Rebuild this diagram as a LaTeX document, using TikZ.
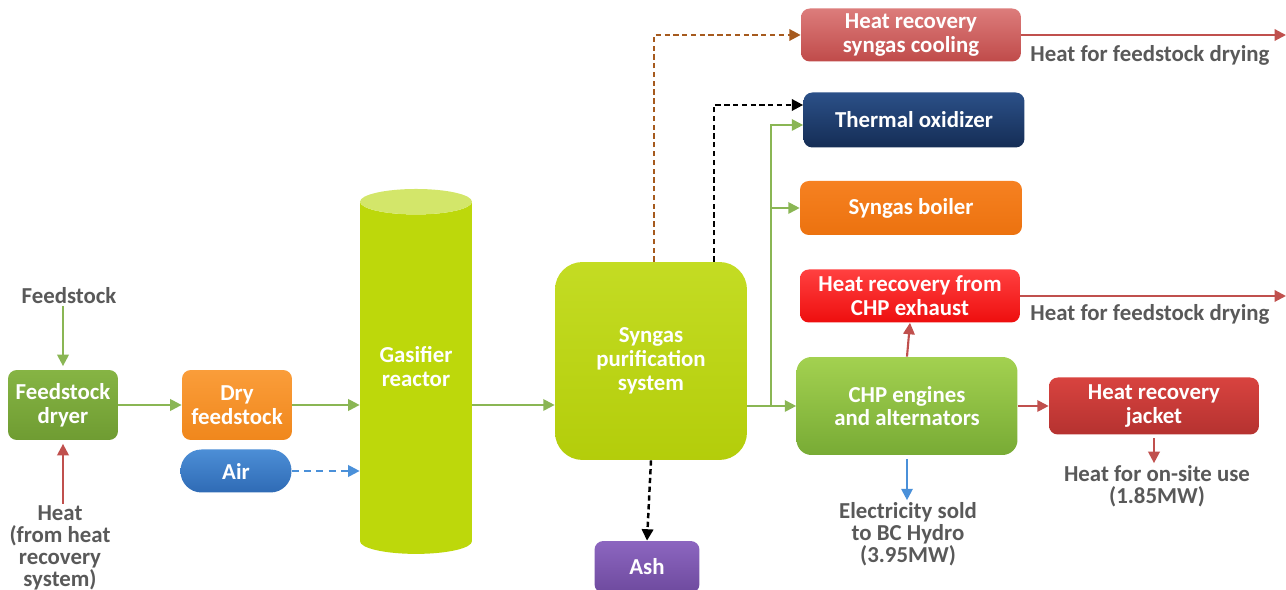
\documentclass[tikz,border=0pt]{standalone}
\usepackage{fontspec}
\setmainfont{Carlito}
\usetikzlibrary{arrows.meta,shapes.geometric}
\definecolor{lblgray}{HTML}{595959}
\definecolor{flowgreen}{HTML}{8AB654}
\definecolor{flowred}{HTML}{C0504D}
\definecolor{flowblue}{HTML}{4A90D9}
\definecolor{flowbrown}{HTML}{A65A1E}
\definecolor{limebody}{HTML}{BDD80B}
\definecolor{limetop}{HTML}{D3E66A}
\definecolor{dryertop}{HTML}{86B444}
\definecolor{dryerbot}{HTML}{6F9C32}
\definecolor{orangetop}{HTML}{FA9D3A}
\definecolor{orangebot}{HTML}{F0871C}
\definecolor{airtop}{HTML}{4C8ED6}
\definecolor{airbot}{HTML}{2F6BB5}
\definecolor{ashtop}{HTML}{8C66C0}
\definecolor{ashbot}{HTML}{6E4A9E}
\definecolor{hrsyntop}{HTML}{DC7C7B}
\definecolor{hrsynbot}{HTML}{C04B4A}
\definecolor{navytop}{HTML}{2B5088}
\definecolor{navybot}{HTML}{152D55}
\definecolor{boilertop}{HTML}{F68121}
\definecolor{boilerbot}{HTML}{EC720F}
\definecolor{exhtop}{HTML}{FF4040}
\definecolor{exhbot}{HTML}{EE0E0E}
\definecolor{chptop}{HTML}{A3D150}
\definecolor{chpbot}{HTML}{78AB35}
\definecolor{jackettop}{HTML}{D8433F}
\definecolor{jacketbot}{HTML}{B53230}
\begin{document}
\begin{tikzpicture}[x=0.02cm,y=-0.02cm,>={Triangle[length=6.5pt,width=6.5pt]},
    box/.style={rounded corners=5pt,text=white,align=center,inner sep=0pt,
        font=\bfseries\fontsize{13}{13.5}\selectfont},
    lbl/.style={text=lblgray,align=center,inner sep=1pt,
        font=\bfseries\fontsize{13}{12.5}\selectfont},
    gline/.style={draw=flowgreen,line width=1.2pt},
    rline/.style={draw=flowred,line width=1.2pt},
    bline/.style={draw=flowblue,line width=1.2pt},
    kdash/.style={draw=black,line width=1.4pt,dash pattern=on 3pt off 2pt},
    brdash/.style={draw=flowbrown,line width=1.4pt,dash pattern=on 3pt off 2pt}]
    \useasboundingbox (0,0) rectangle (1286,590);
    \node (feedlbl) at (69,296) [lbl] {Feedstock};
    \node (dryer) at (63,405) [box,minimum width=2.2cm,minimum height=1.4cm,
        top color=dryertop,bottom color=dryerbot] {Feedstock\\dryer};
    \node (heatlbl) at (60,548) [lbl] {Heat\\(from heat\\recovery\\system)};
    \node (dry) at (237,405) [box,minimum width=2.2cm,minimum height=1.4cm,
        top color=orangetop,bottom color=orangebot] {Dry\\feedstock};
    \node (air) at (236,471) [box,rounded corners=0.42cm,minimum width=2.22cm,minimum height=0.86cm,
        top color=airtop,bottom color=airbot] {Air};
    \node (gas) at (416,378) [shape=cylinder,shape border rotate=90,aspect=0.35,
        minimum width=2.24cm,minimum height=7.3cm,cylinder uses custom fill,
        cylinder body fill=limebody,cylinder end fill=limetop,
        text=white,align=center,inner sep=0pt,font=\bfseries\fontsize{13}{13.5}\selectfont] {Gasifier\\reactor\\\mbox{}};
    \node (syn) at (651,361) [box,rounded corners=0.55cm,minimum width=3.84cm,minimum height=3.96cm,
        top color=limebody!90!white,bottom color=limebody!95!black] {Syngas\\purification\\system};
    \node (ash) at (647,567) [box,minimum width=2.1cm,minimum height=1.04cm,
        top color=ashtop,bottom color=ashbot] {Ash};
    \node (hrsyn) at (911,35) [box,minimum width=4.4cm,minimum height=1.06cm,
        top color=hrsyntop,bottom color=hrsynbot] {Heat recovery\\syngas cooling};
    \node (thermal) at (914,120) [box,minimum width=4.42cm,minimum height=1.1cm,
        top color=navytop,bottom color=navybot] {Thermal oxidizer};
    \node (boiler) at (911,208) [box,minimum width=4.44cm,minimum height=1.08cm,
        top color=boilertop,bottom color=boilerbot] {Syngas boiler};
    \node (exhaust) at (910,296) [box,minimum width=4.4cm,minimum height=1.06cm,
        top color=exhtop,bottom color=exhbot] {Heat recovery from\\CHP exhaust};
    \node (chp) at (907,406) [box,rounded corners=0.3cm,minimum width=4.42cm,minimum height=1.96cm,
        top color=chptop,bottom color=chpbot] {CHP engines\\and alternators};
    \node (jacket) at (1154,406) [box,minimum width=4.2cm,minimum height=1.14cm,
        top color=jackettop,bottom color=jacketbot] {Heat recovery\\jacket};
    \node (dry1lbl) at (1150,55) [lbl] {Heat for feedstock drying};
    \node (dry2lbl) at (1150,314) [lbl] {Heat for feedstock drying};
    \node (onsitelbl) at (1157,486) [lbl] {Heat for on-site use\\(1.85MW)};
    \node (eleclbl) at (908,534) [lbl] {Electricity sold\\to BC Hydro\\(3.95MW)};
    \coordinate (split) at (771,406);
    \coordinate (out1) at (1286,35);
    \coordinate (out2) at (1286,296);
    \draw [gline,->] (dryer.north |- feedlbl.south) -- ([yshift=2pt]dryer.north);
    \draw [rline,->] (dryer.south |- heatlbl.north) -- ([yshift=-2pt]dryer.south);
    \draw [gline,->] (dryer.east) -- (dry.west);
    \draw [gline,->] (dry.east) -- (dry.east -| gas.west);
    \draw [bline,->,dash pattern=on 4pt off 3pt] (air.east) -- (air.east -| gas.west);
    \draw [gline,->] (dry.east -| gas.east) -- (dry.east -| syn.west);
    \draw [gline,->] (chp.west -| syn.east) -- (chp.west);
    \draw [gline,->] (split) |- ([yshift=-0.1cm]thermal.west);
    \draw [gline,->] (split |- boiler.west) -- (boiler.west);
    \draw [brdash,->] ([xshift=0.06cm]syn.north) |- (hrsyn.west);
    \draw [kdash,->] ([xshift=1.26cm]syn.north) |- ([yshift=0.3cm]thermal.west);
    \draw [kdash,->] (syn.south) -- (ash.north);
    \draw [rline,->] (hrsyn.east) -- (out1);
    \draw [rline,->] (exhaust.east) -- (out2);
    \draw [rline,->] (chp.north) -- (exhaust.south);
    \draw [rline,->] (chp.east) -- (jacket.west);
    \draw [rline,->] ([yshift=-2pt]jacket.south) -- (jacket.south |- onsitelbl.north);
    \draw [bline,->] ([yshift=-2pt]chp.south) -- (chp.south |- eleclbl.north);
\end{tikzpicture}
\end{document}
